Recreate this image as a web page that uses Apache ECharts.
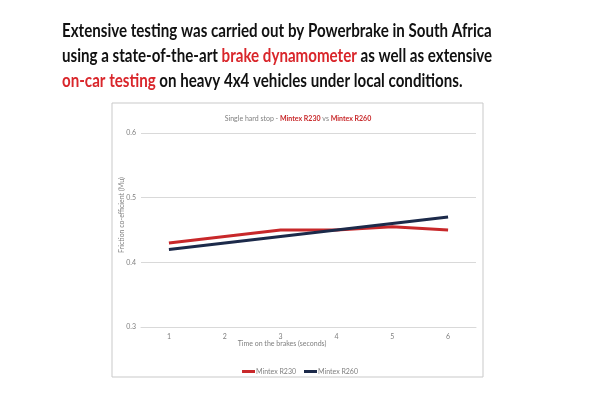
<!DOCTYPE html>
<html>
<head>
<meta charset="utf-8">
<script src="https://cdn.jsdelivr.net/npm/echarts@6/dist/echarts.min.js"></script>
<style>
  html, body { margin: 0; padding: 0; background: #fff; }
  #main { width: 600px; height: 400px; }
</style>
</head>
<body>
<div id="main"></div>
<script>
var chartDom = document.getElementById('main');
var myChart = echarts.init(chartDom, null, { renderer: 'canvas' });

// 数据
var seconds = ['1', '2', '3', '4', '5', '6'];
var r230 = [0.43, 0.44, 0.45, 0.45, 0.455, 0.45];
var r260 = [0.42, 0.43, 0.44, 0.45, 0.46, 0.47];
var seriesNames = ['Mintex R230', 'Mintex R260'];

var redColor = '#c8282a';
var navyColor = '#1c2a4a';
var headRed = '#d9262b';
var greyText = '#7f7f7f';
var headFont = 'Lato, sans-serif';
var smallFont = 'Lato';
var smallSize = 7;

// 标题的一行
function headLine(top, text) {
    return {
        type: 'text', x: 62, y: top, scaleX: 0.84,
        style: {
            text: text,
            rich: {
                k: { font: 'bold 18px ' + headFont, fill: '#111' },
                r: { font: 'bold 18px ' + headFont, fill: headRed }
            }
        }
    };
}

var option = {
    animation: false,
    graphic: [
        { // 图表外框
            type: 'rect',
            shape: { x: 112, y: 103, width: 371, height: 274 },
            style: { fill: 'none', stroke: '#c9c9c9', lineWidth: 1 },
            z: 0
        },
        headLine(22, '{k|Extensive testing was carried out by Powerbrake in South Africa}'),
        headLine(47, '{k|using a state-of-the-art }{r|brake dynamometer}{k| as well as extensive}'),
        headLine(72, '{r|on-car testing}{k| on heavy 4x4 vehicles under local conditions.}'),
        { // 图表标题
            type: 'text', x: 298, y: 119,
            style: {
                text: '{a|Single hard stop - }{b|Mintex R230}{a| vs }{b|Mintex R260}',
                align: 'center', verticalAlign: 'middle',
                rich: {
                    a: { fontSize: smallSize, fill: greyText, fontFamily: smallFont },
                    b: { fontSize: smallSize, fill: redColor, fontWeight: 'bold', fontFamily: smallFont }
                }
            }
        },
        { // x 轴标题
            type: 'text', x: 282, y: 344,
            style: {
                text: 'Time on the brakes (seconds)',
                align: 'center', verticalAlign: 'middle',
                fontSize: smallSize, fill: greyText, fontFamily: smallFont
            }
        },
        { // y 轴标题
            type: 'text', x: 122, y: 215, rotation: Math.PI / 2,
            style: {
                text: 'Friction co-efficient (Mu)',
                align: 'center', verticalAlign: 'middle',
                fontSize: smallSize, fill: greyText, fontFamily: smallFont
            }
        }
    ],
    legend: {
        data: seriesNames,
        top: 363,
        left: 'center',
        icon: 'rect',
        itemWidth: 13,
        itemHeight: 3,
        itemGap: 8,
        textStyle: { fontSize: smallSize, color: greyText, fontFamily: smallFont, padding: [0, 0, 0, -4] }
    },
    grid: { left: 141, right: 124, top: 133, bottom: 73 },
    xAxis: {
        type: 'category',
        data: seconds,
        boundaryGap: true,
        axisLine: { lineStyle: { color: '#d9d9d9' } },
        axisTick: { show: false },
        axisLabel: { fontSize: smallSize, color: greyText, fontFamily: smallFont, margin: 6 }
    },
    yAxis: {
        type: 'value',
        min: 0.3,
        max: 0.6,
        interval: 0.1,
        axisLine: { show: false },
        axisTick: { show: false },
        splitLine: { lineStyle: { color: '#d9d9d9' } },
        axisLabel: {
            fontSize: smallSize, color: greyText, fontFamily: smallFont, margin: 5,
            formatter: function (v) { return v.toFixed(1); }
        }
    },
    series: [
        {
            name: seriesNames[0],
            type: 'line',
            data: r230,
            symbol: 'none',
            lineStyle: { color: redColor, width: 3 },
            itemStyle: { color: redColor }
        },
        {
            name: seriesNames[1],
            type: 'line',
            data: r260,
            symbol: 'none',
            lineStyle: { color: navyColor, width: 3 },
            itemStyle: { color: navyColor }
        }
    ]
};
myChart.setOption(option);
</script>
</body>
</html>
